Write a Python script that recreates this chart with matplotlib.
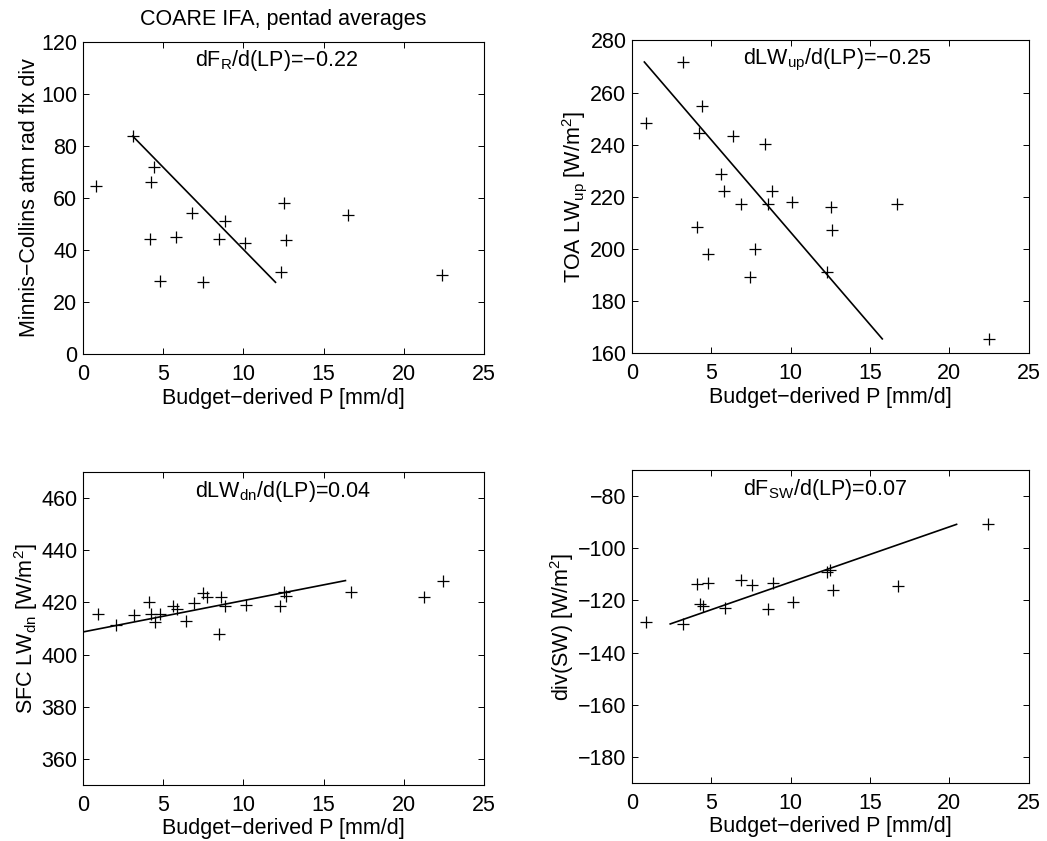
import matplotlib
matplotlib.use("Agg")
import matplotlib.pyplot as plt
import matplotlib.transforms as mtransforms

plt.rcParams['font.family'] = ['Liberation Sans', 'DejaVu Sans']
plt.rcParams['mathtext.fontset'] = 'custom'
plt.rcParams['mathtext.rm'] = 'Liberation Sans'
plt.rcParams['mathtext.it'] = 'Liberation Sans'
FS = 15.5

# pentad data
p_rad = [0.83, 3.12, 4.16, 4.26, 4.41, 4.78, 5.82, 6.82, 7.49, 8.49, 8.84, 10.09, 12.33, 12.54, 12.65, 16.55, 22.4]
f_rad = [64.8, 83.8, 44.2, 66.0, 72.0, 28.1, 45.2, 54.2, 27.8, 44.2, 51.3, 42.7, 31.7, 58.1, 43.7, 53.6, 30.5]
fit_rad_x = [3.1, 12.0]
fit_rad_y = [83.8, 27.6]

p_lwup = [0.90, 3.19, 4.09, 4.24, 4.43, 4.78, 5.60, 5.81, 6.35, 6.86, 7.45, 7.78, 8.39, 8.54, 8.85, 10.09, 12.27, 12.54, 12.60, 16.67, 22.5]
lwup = [248.3, 271.7, 208.4, 244.4, 254.9, 197.9, 228.6, 222.4, 243.2, 217.3, 189.2, 200.0, 240.1, 217.3, 222.4, 218.0, 191.1, 216.0, 207.3, 217.3, 165.5]
fit_lwup_x = [0.78, 15.77]
fit_lwup_y = [271.7, 165.5]

p_lwdn = [0.94, 2.08, 3.16, 4.11, 4.26, 4.47, 4.78, 5.61, 5.88, 6.40, 6.90, 7.48, 7.73, 8.48, 8.58, 8.83, 10.14, 12.30, 12.53, 12.68, 16.69, 21.26, 22.44]
lwdn = [415.7, 411.2, 415.3, 420.1, 415.7, 412.5, 415.7, 418.8, 417.6, 412.8, 419.7, 423.5, 422.0, 408.0, 422.0, 418.5, 419.2, 418.8, 423.9, 422.4, 424.2, 422.0, 428.3]
fit_lwdn_x = [0.0, 16.36]
fit_lwdn_y = [408.7, 428.4]

p_sw = [0.91, 3.19, 4.10, 4.31, 4.50, 4.82, 5.87, 6.90, 7.58, 8.57, 8.90, 10.17, 12.27, 12.48, 12.66, 16.74, 22.44]
sw = [-128.3, -129.1, -113.5, -121.3, -122.0, -113.2, -122.9, -112.1, -114.0, -123.4, -113.4, -120.7, -108.9, -108.3, -115.8, -114.4, -90.8]
fit_sw_x = [2.41, 20.45]
fit_sw_y = [-129.0, -90.8]

panels = [
    dict(x=p_rad, y=f_rad, fx=fit_rad_x, fy=fit_rad_y, ylim=(0, 120),
         yticks=range(0, 121, 20), ylabel='Minnis\u2212Collins atm rad flx div',
         note='dF$_{\\rm R}$/d(LP)=\u22120.22',
         rect=[0.0793, 0.579, 0.383, 0.371]),
    dict(x=p_lwup, y=lwup, fx=fit_lwup_x, fy=fit_lwup_y, ylim=(160, 280),
         yticks=range(160, 281, 20), ylabel='TOA LW$_{\\rm up}$ [W/m$^{\\rm 2}$]',
         note='dLW$_{\\rm up}$/d(LP)=\u22120.25',
         rect=[0.6036, 0.580, 0.379, 0.372]),
    dict(x=p_lwdn, y=lwdn, fx=fit_lwdn_x, fy=fit_lwdn_y, ylim=(350, 470),
         yticks=range(360, 461, 20), ylabel='SFC LW$_{\\rm dn}$ [W/m$^{\\rm 2}$]',
         note='dLW$_{\\rm dn}$/d(LP)=0.04',
         rect=[0.0793, 0.0666, 0.383, 0.372]),
    dict(x=p_sw, y=sw, fx=fit_sw_x, fy=fit_sw_y, ylim=(-190, -70),
         yticks=range(-180, -79, 20), ylabel='div(SW) [W/m$^{\\rm 2}$]',
         note='dF$_{\\rm SW}$/d(LP)=0.07',
         rect=[0.6036, 0.069, 0.379, 0.372]),
]

fig = plt.figure(figsize=(10.47, 8.41), dpi=100)

for i, pn in enumerate(panels):
    ax = fig.add_axes(pn['rect'])
    ax.plot(pn['x'], pn['y'], '+', color='black', markersize=9, markeredgewidth=0.9)
    ax.plot(pn['fx'], pn['fy'], '-', color='black', linewidth=1.2)
    ax.set_xlim(0, 25)
    ax.set_ylim(*pn['ylim'])
    ax.set_xticks(range(0, 26, 5))
    ax.set_yticks(list(pn['yticks']))
    ax.tick_params(direction='in', top=True, right=True, length=4, width=0.7, labelsize=FS)
    ax.tick_params(axis='x', pad=7)
    ax.tick_params(axis='y', pad=4)
    for s in ax.spines.values():
        s.set_linewidth(0.8)
    ax.set_xlabel('Budget\u2212derived P [mm/d]', fontsize=FS, labelpad=2)
    ax.set_ylabel(pn['ylabel'], fontsize=FS, labelpad=1)
    trans = mtransforms.blended_transform_factory(ax.transData, ax.transAxes)
    ax.text(7, 0.922, pn['note'], transform=trans, ha='left', va='baseline', fontsize=FS)
    if i == 0:
        ax.set_title('COARE IFA, pentad averages', fontsize=FS, pad=12.5)

fig.savefig('out.png', dpi=100)
